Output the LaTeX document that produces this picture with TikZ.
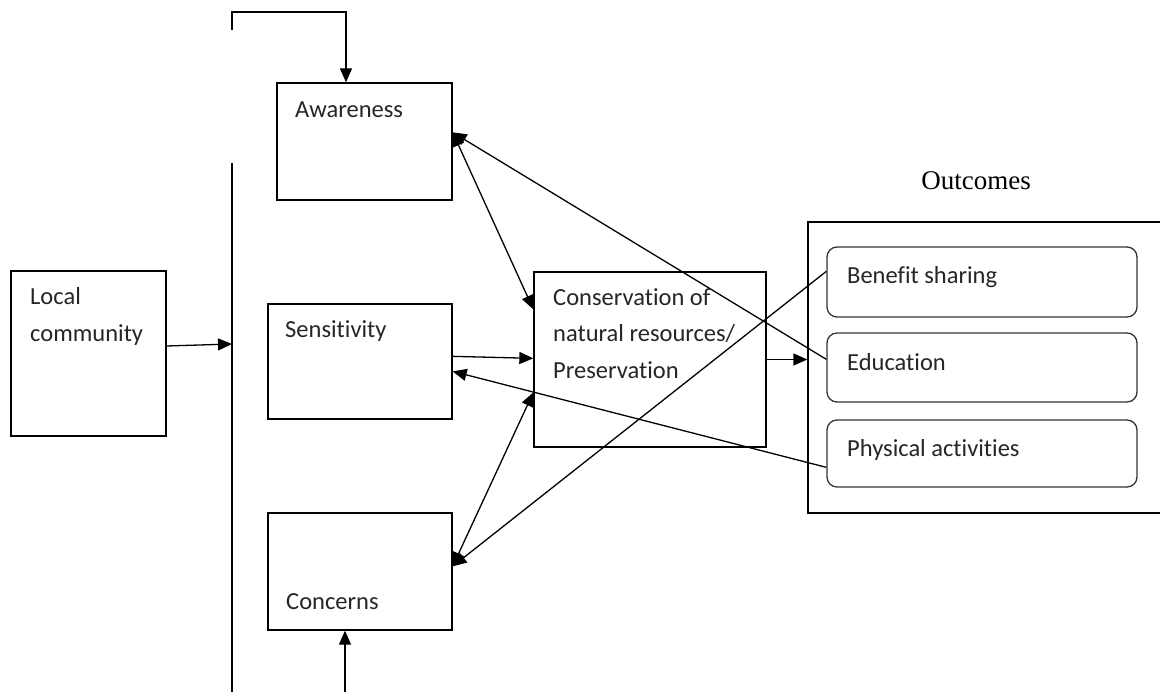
\documentclass[tikz,border=0pt]{standalone}
\usepackage{fontspec}
\setmainfont{Carlito}[Ligatures=NoCommon]
\newfontfamily\headfont{Liberation Serif}
\usetikzlibrary{arrows.meta}

\begin{document}
\begin{tikzpicture}[x=1pt,y=-1pt,
  box/.style={draw,line width=1.3pt,inner sep=0pt},
  rbox/.style={box,rounded corners=10pt,draw=black!80},
  lbl/.style={anchor=base west,inner sep=0pt,text=black!85,font=\fontsize{24.5}{30}\selectfont},
  arr/.style={line width=1.3pt,-{Triangle[length=14pt,width=12pt]}},
  dbl/.style={line width=1.3pt,{Triangle[length=14pt,width=12pt]}-{Triangle[length=14pt,width=12pt]}}]

  \clip (0,0) rectangle (1160,692);
  \fill[white] (0,0) rectangle (1160,692);

  % boxes
  \node[box,minimum width=155pt,minimum height=165pt] (lc) at (88.5,353.5) {};
  \node[box,minimum width=175pt,minimum height=117pt] (aw) at (364.5,141.5) {};
  \node[box,minimum width=184pt,minimum height=115pt] (se) at (360,361.5) {};
  \node[box,minimum width=184pt,minimum height=117pt] (co) at (360,571.5) {};
  \node[box,minimum width=232pt,minimum height=175pt] (cn) at (650,359.5) {};
  \node[box,minimum width=400pt,minimum height=291pt] (oc) at (1008,367.5) {};
  \node[rbox,minimum width=310pt,minimum height=70pt] (bs) at (982,282) {};
  \node[rbox,minimum width=310pt,minimum height=69pt] (ed) at (982,367.5) {};
  \node[rbox,minimum width=310pt,minimum height=67pt] (pa) at (982,453.5) {};

  % texts
  \node[lbl] (lcA) at (30,305) {Local};
  \node[lbl] (lcB) at (30,342) {community};
  \node[lbl] (awT) at (295,118) {Awareness};
  \node[lbl] (seT) at (285,338) {Sensitivity};
  \node[lbl] (coT) at (286,609) {Concerns};
  \node[lbl] (cnA) at (553,306) {Conservation of};
  \node[lbl] (cnB) at (553,342) {natural resources/};
  \node[lbl] (cnC) at (553,379) {Preservation};
  \node[lbl] (bsT) at (847,284) {Benefit sharing};
  \node[lbl] (edT) at (847,371) {Education};
  \node[lbl] (paT) at (847,457) {Physical activities};
  \node[anchor=base,inner sep=0pt,font=\headfont\fontsize{27}{32}\selectfont] (ocT) at (976,190) {Outcomes};

  % feedback bar
  \coordinate (fbL) at (232,30);
  \coordinate (fbR) at (346,12);
  \coordinate (fbB) at (345,692);
  \coordinate (barT) at (232,163);
  \coordinate (barM) at (232,344);
  \coordinate (barB) at (232,692);
  \draw[arr] (fbL) |- (fbR) -- (fbR |- aw.north);
  \draw[line width=1.3pt] (barT) -- (barB);
  \draw[arr] (fbB) -- (fbB |- co.south);
  \draw[arr] ([yshift=7.5pt]lc.east) -- (barM);

  % links
  \draw[dbl] ([yshift=-50pt]aw.north east) -- ([yshift=-38pt]cn.north west);
  \draw[arr] ([yshift=-53pt]se.north east) -- ([yshift=-87pt]cn.north west);
  \draw[dbl] ([yshift=-54pt]co.north east) -- ([yshift=-121pt]cn.north west);
  \draw[arr] (cn.east) -- (cn.east -| oc.west);
  \draw[arr] ([yshift=-27pt]ed.north west) -- ([yshift=-50pt]aw.north east);
  \draw[arr] ([yshift=-25pt]bs.north west) -- ([yshift=-54pt]co.north east);
  \draw[arr] ([yshift=-48pt]pa.north west) -- ([yshift=-68pt]se.north east);
\end{tikzpicture}
\end{document}
